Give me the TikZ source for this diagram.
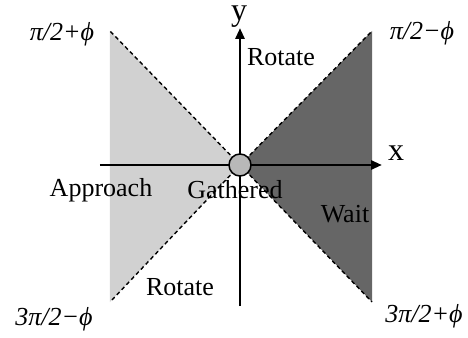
\documentclass[tikz,border=0pt]{standalone}
\usepackage{fontspec}
\setmainfont{Liberation Serif}
\usetikzlibrary{arrows.meta}

\definecolor{lightzone}{gray}{0.82}
\definecolor{darkzone}{gray}{0.40}
\definecolor{hubgray}{gray}{0.72}

\begin{document}
\begin{tikzpicture}[x=1pt, y=1pt, every node/.style={font=\fontsize{26}{28}\selectfont, inner sep=0pt}, >={Triangle[length=11pt, width=9pt]}, axis/.style={line width=2.7pt}, bound/.style={line width=1.4pt, dash pattern=on 4pt off 3pt}, axlabel/.style={font=\fontsize{32}{34}\selectfont}, ang/.style={font=\fontsize{26}{28}\selectfont\itshape}]
	\useasboundingbox (-240,-172) rectangle (228,165);
	\coordinate (O) at (0,0);
	\coordinate (tl) at (-130,134); \coordinate (bl) at (-130,-137);
	\coordinate (tr) at (132,134); \coordinate (br) at (132,-137);
	\coordinate (xs) at (-140,0); \coordinate (xe) at (142,0);
	\coordinate (ys) at (0,-141); \coordinate (ye) at (0,137);
	\fill[lightzone] (O) -- (tl) -- (bl) -- cycle;
	\fill[darkzone] (O) -- (tr) -- (br) -- cycle;
	\foreach \c in {tl,bl,tr,br} {\draw[bound] (O) -- (\c);}
	\draw[axis, ->] (xs) -- (xe);
	\draw[axis, ->] (ys) -- (ye);
	\node[draw, circle, fill=hubgray, line width=1.5pt, minimum size=22pt] (hub) at (O) {};
	\node[axlabel] (xl) at (156,12) {x};
	\node[axlabel] (yl) at (-1,148) {y};
	\node (rottop) at (41,108) {Rotate};
	\node (appr) at (-139,-25) {Approach};
	\node (gath) at (-5,-25) {Gathered};
	\node (wait) at (105,-49) {Wait};
	\node (rotbot) at (-60,-122) {Rotate};
	\node[ang] (a1) at (-178,131) {π/2+ϕ};
	\node[ang] (a2) at (182,132) {π/2−ϕ};
	\node[ang] (a3) at (-186,-154) {3π/2−ϕ};
	\node[ang] (a4) at (184,-151) {3π/2+ϕ};
\end{tikzpicture}
\end{document}
